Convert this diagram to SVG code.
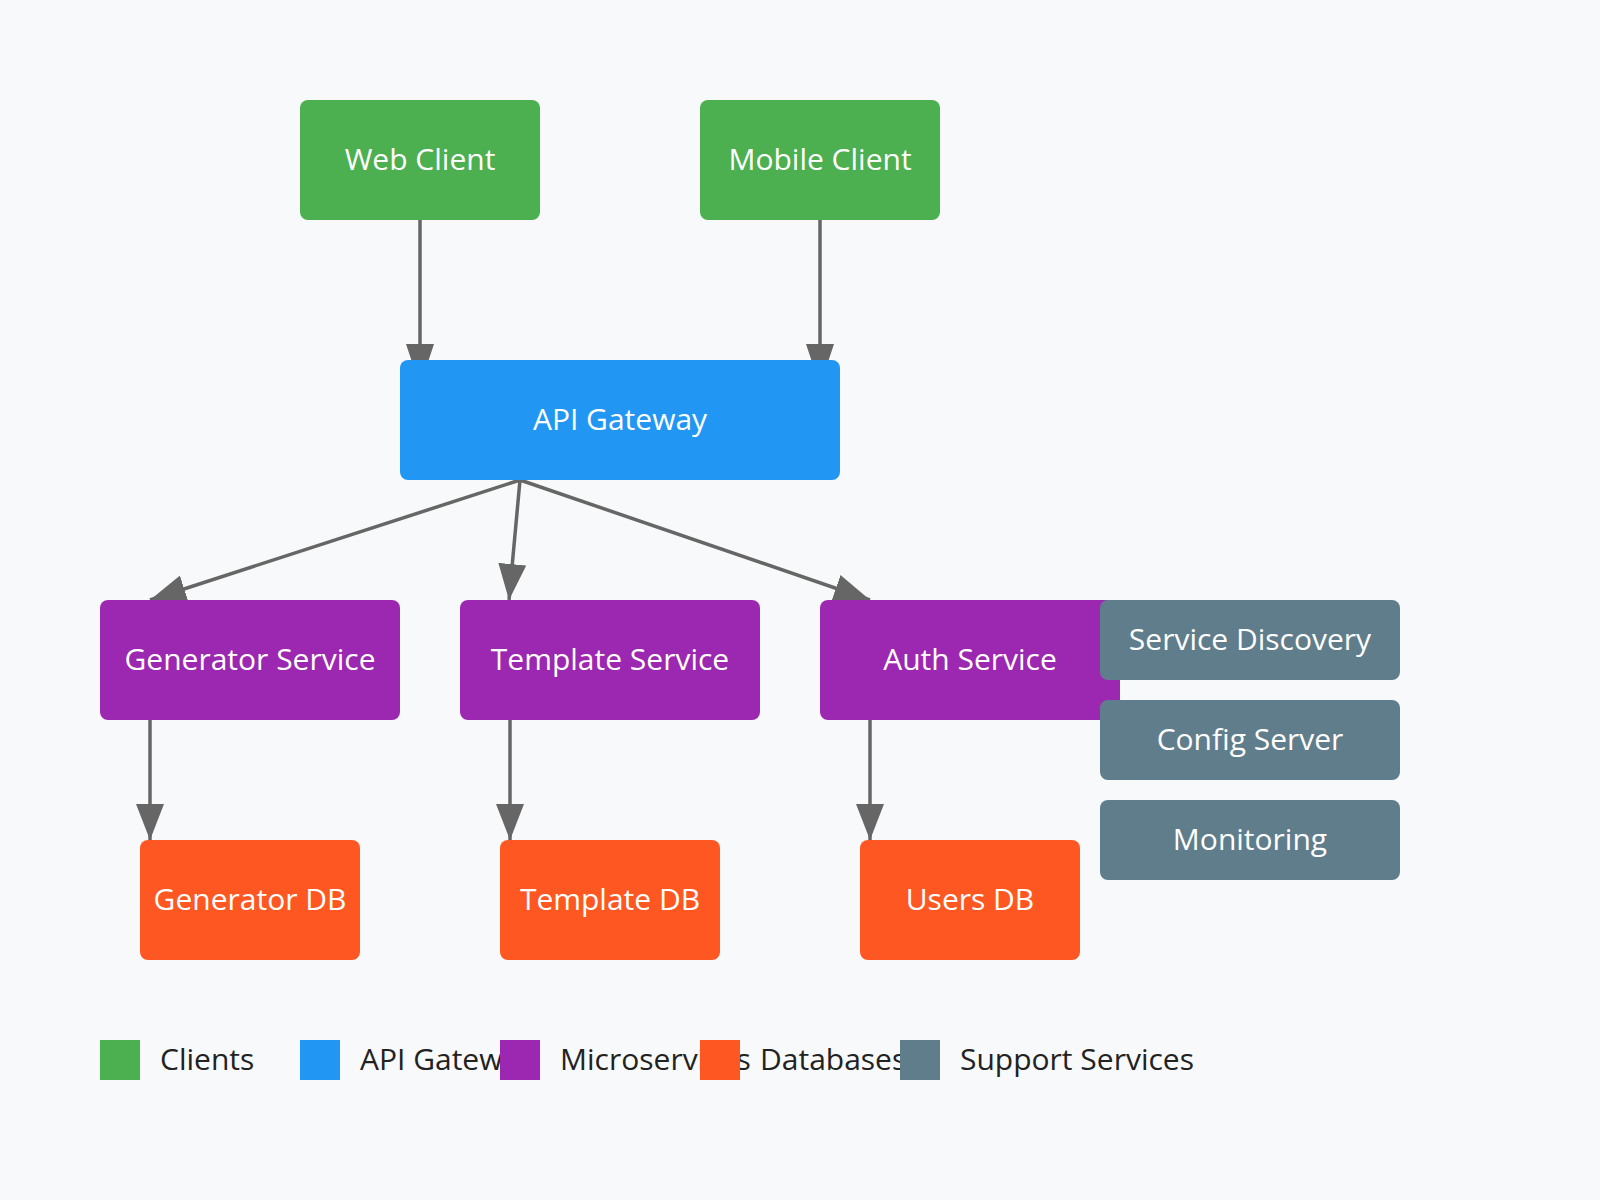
<svg xmlns="http://www.w3.org/2000/svg" width="1600" height="1200" viewBox="0 0 1600 1200">
<style>
.bg{fill:#f8f9fa}
.node rect{rx:8px;ry:8px}
.client{fill:#4caf50}
.gateway{fill:#2196f3}
.service{fill:#9c27b0}
.db{fill:#ff5722}
.support{fill:#607d8b}
.lbl{font-family:"Open Sans","Noto Sans","Liberation Sans",sans-serif;font-size:30px;fill:#ffffff;text-anchor:middle}
.leg{font-family:"Open Sans","Noto Sans","Liberation Sans",sans-serif;font-size:30px;fill:#222222}
.edge{stroke:#666666;stroke-width:3.5;fill:none}
.edge.short{marker-end:url(#arrow)}
.edge.long{marker-end:url(#arrowLong)}
</style>
<defs>
<marker id="arrow" markerUnits="userSpaceOnUse" markerWidth="36" markerHeight="28" viewBox="0 0 36 28" refX="36" refY="14" orient="auto">
<path d="M0,0 L36,14 L0,28 z" fill="#666666"/>
</marker>
<marker id="arrowLong" markerUnits="userSpaceOnUse" markerWidth="42" markerHeight="28" viewBox="0 0 42 28" refX="42" refY="14" orient="auto">
<path d="M0,0 L42,14 L0,28 z" fill="#666666"/>
</marker>
</defs>
<rect class="bg" x="0" y="0" width="1600" height="1200"/>
<g id="connectors">
<line class="edge long" x1="420" y1="220" x2="420" y2="386"/>
<line class="edge long" x1="820" y1="220" x2="820" y2="386"/>
<line class="edge short" x1="520" y1="480" x2="150" y2="600"/>
<line class="edge short" x1="520" y1="480" x2="509" y2="600"/>
<line class="edge short" x1="520" y1="480" x2="870" y2="600"/>
<line class="edge short" x1="150" y1="720" x2="150" y2="840"/>
<line class="edge short" x1="510" y1="720" x2="510" y2="840"/>
<line class="edge short" x1="870" y1="720" x2="870" y2="840"/>
</g>
<g id="web-client" class="node"><rect class="client" x="300" y="100" width="240" height="120"/><text class="lbl" x="420" y="170">Web Client</text></g>
<g id="mobile-client" class="node"><rect class="client" x="700" y="100" width="240" height="120"/><text class="lbl" x="820" y="170">Mobile Client</text></g>
<g id="api-gateway" class="node"><rect class="gateway" x="400" y="360" width="440" height="120"/><text class="lbl" x="620" y="430">API Gateway</text></g>
<g id="generator-service" class="node"><rect class="service" x="100" y="600" width="300" height="120"/><text class="lbl" x="250" y="670">Generator Service</text></g>
<g id="template-service" class="node"><rect class="service" x="460" y="600" width="300" height="120"/><text class="lbl" x="610" y="670">Template Service</text></g>
<g id="auth-service" class="node"><rect class="service" x="820" y="600" width="300" height="120"/><text class="lbl" x="970" y="670">Auth Service</text></g>
<g id="generator-db" class="node"><rect class="db" x="140" y="840" width="220" height="120"/><text class="lbl" x="250" y="910">Generator DB</text></g>
<g id="template-db" class="node"><rect class="db" x="500" y="840" width="220" height="120"/><text class="lbl" x="610" y="910">Template DB</text></g>
<g id="users-db" class="node"><rect class="db" x="860" y="840" width="220" height="120"/><text class="lbl" x="970" y="910">Users DB</text></g>
<g id="service-discovery" class="node"><rect class="support" x="1100" y="600" width="300" height="80"/><text class="lbl" x="1250" y="650">Service Discovery</text></g>
<g id="config-server" class="node"><rect class="support" x="1100" y="700" width="300" height="80"/><text class="lbl" x="1250" y="750">Config Server</text></g>
<g id="monitoring" class="node"><rect class="support" x="1100" y="800" width="300" height="80"/><text class="lbl" x="1250" y="850">Monitoring</text></g>
<g id="legend">
<rect class="client" x="100" y="1040" width="40" height="40"/><text class="leg" x="160" y="1070">Clients</text>
<rect class="gateway" x="300" y="1040" width="40" height="40"/><text class="leg" x="360" y="1070">API Gateway</text>
<rect class="service" x="500" y="1040" width="40" height="40"/><text class="leg" x="560" y="1070">Microservices</text>
<rect class="db" x="700" y="1040" width="40" height="40"/><text class="leg" x="760" y="1070">Databases</text>
<rect class="support" x="900" y="1040" width="40" height="40"/><text class="leg" x="960" y="1070">Support Services</text>
</g>
</svg>
